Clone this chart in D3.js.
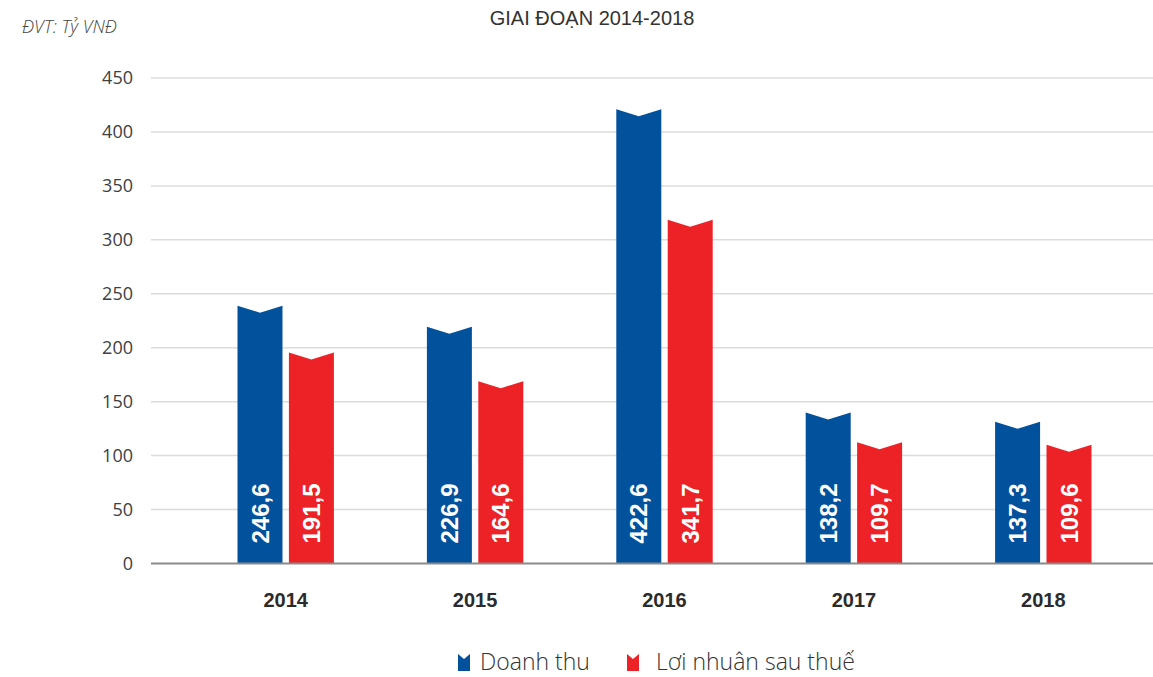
<!DOCTYPE html>
<html lang="vi">
<head>
  <meta charset="UTF-8" />
  <title>Doanh thu và lợi nhuận 2014-2018</title>
  <style>
    body { margin: 0; background: #fff; }
    svg { display: block; }
    .tick-label { font-family: 'Open Sans', sans-serif; font-size: 18px; fill: #404040; }
    .year-label { font-family: 'Liberation Sans Narrow', 'Liberation Sans', sans-serif; font-size: 20px; font-weight: bold; fill: #2b2b2b; }
    .bar-label { font-family: 'Liberation Sans Narrow', 'Liberation Sans', sans-serif; font-size: 24px; font-weight: bold; fill: #fff; }
    .legend-text { font-family: 'Open Sans', sans-serif; font-size: 23px; font-weight: 300; fill: #333; }
  </style>
</head>
<body>
  <svg id="chart" width="1153" height="677"></svg>
  <script src="https://d3js.org/d3.v7.min.js"></script>
  <script>
    // data
    const years = ["2014", "2015", "2016", "2017", "2018"];
    const seriesNames = ["Doanh thu", "Lơi nhuân sau thuế"];
    // printed labels
    const revenueLabels = ["246,6", "226,9", "422,6", "138,2", "137,3"];
    const profitLabels = ["191,5", "164,6", "341,7", "109,7", "109,6"];
    // bar heights as drawn (top corners)
    const revenueBars = [239, 219.5, 421, 140, 131.5];
    const profitBars = [195.5, 169, 318.5, 112.5, 110];
    const yTicks = [0, 50, 100, 150, 200, 250, 300, 350, 400, 450];
    const colors = ["#02519c", "#ec2227"];

    const svg = d3.select("#chart");

    const x = d3.scaleBand().domain(years).range([191, 1138]).padding(0);
    const xs = d3.scaleBand().domain([0, 1]).range([46.5, 142.9]).paddingInner(0.125);
    const y = d3.scaleLinear().domain([0, 450]).range([563.5, 78]);

    // gridlines
    svg.append("g").selectAll("line")
      .data(yTicks.filter(d => d > 0))
      .join("line")
      .attr("x1", 151).attr("x2", 1153)
      .attr("y1", d => y(d)).attr("y2", d => y(d))
      .attr("stroke", "#dcdcdc").attr("stroke-width", 1.5);

    // y tick labels
    svg.append("g").selectAll("text")
      .data(yTicks)
      .join("text")
      .attr("class", "tick-label")
      .attr("x", 133).attr("y", d => y(d))
      .attr("dy", "0.36em")
      .attr("text-anchor", "end")
      .text(d => d);

    // bars with notched tops
    const notch = 7;
    function barPath(x0, w, v) {
      const top = y(v), bottom = y(0);
      return `M${x0},${bottom}L${x0},${top}L${x0 + w / 2},${top + notch}L${x0 + w},${top}L${x0 + w},${bottom}Z`;
    }

    const rows = years.map((yr, i) => ({
      year: yr,
      vals: [
        { s: 0, bar: revenueBars[i], label: revenueLabels[i] },
        { s: 1, bar: profitBars[i], label: profitLabels[i] }
      ]
    }));

    const groups = svg.append("g").selectAll("g")
      .data(rows)
      .join("g")
      .attr("transform", d => `translate(${x(d.year)},0)`);

    groups.selectAll("path")
      .data(d => d.vals)
      .join("path")
      .attr("d", d => barPath(xs(d.s), xs.bandwidth(), d.bar))
      .attr("fill", d => colors[d.s]);

    groups.selectAll("text.bar-label")
      .data(d => d.vals)
      .join("text")
      .attr("class", "bar-label")
      .attr("transform", d => `translate(${xs(d.s) + xs.bandwidth() / 2},${y(0) - 20}) rotate(-90)`)
      .attr("dy", "0.36em")
      .text(d => d.label);

    // baseline
    svg.append("line")
      .attr("x1", 151).attr("x2", 1153)
      .attr("y1", y(0)).attr("y2", y(0))
      .attr("stroke", "#8a8a8a").attr("stroke-width", 2);

    // year labels
    svg.append("g").selectAll("text")
      .data(years)
      .join("text")
      .attr("class", "year-label")
      .attr("x", d => x(d) + x.bandwidth() / 2)
      .attr("y", 607)
      .attr("text-anchor", "middle")
      .text(d => d);

    // titles
    svg.append("text")
      .attr("x", 592).attr("y", 25)
      .attr("text-anchor", "middle")
      .attr("font-family", "'Liberation Sans Narrow', sans-serif")
      .attr("font-size", 20)
      .attr("fill", "#333")
      .text("GIAI ĐOẠN 2014-2018");

    svg.append("text")
      .attr("x", 22).attr("y", 33)
      .attr("font-family", "'Open Sans', sans-serif")
      .attr("font-style", "italic")
      .attr("font-weight", 300)
      .attr("font-size", 18)
      .attr("fill", "#444")
      .text("ĐVT: Tỷ VNĐ");

    // legend
    const legendX = [458, 627];
    const legendTextX = [480, 656];
    const legend = svg.append("g").selectAll("g")
      .data(seriesNames)
      .join("g");

    legend.append("path")
      .attr("d", (d, i) => {
        const x0 = legendX[i], w = 12, t = 654, b = 671;
        return `M${x0},${b}L${x0},${t}L${x0 + w / 2},${t + 5}L${x0 + w},${t}L${x0 + w},${b}Z`;
      })
      .attr("fill", (d, i) => colors[i]);

    legend.append("text")
      .attr("class", "legend-text")
      .attr("x", (d, i) => legendTextX[i])
      .attr("y", 670)
      .text(d => d);
  </script>
</body>
</html>
